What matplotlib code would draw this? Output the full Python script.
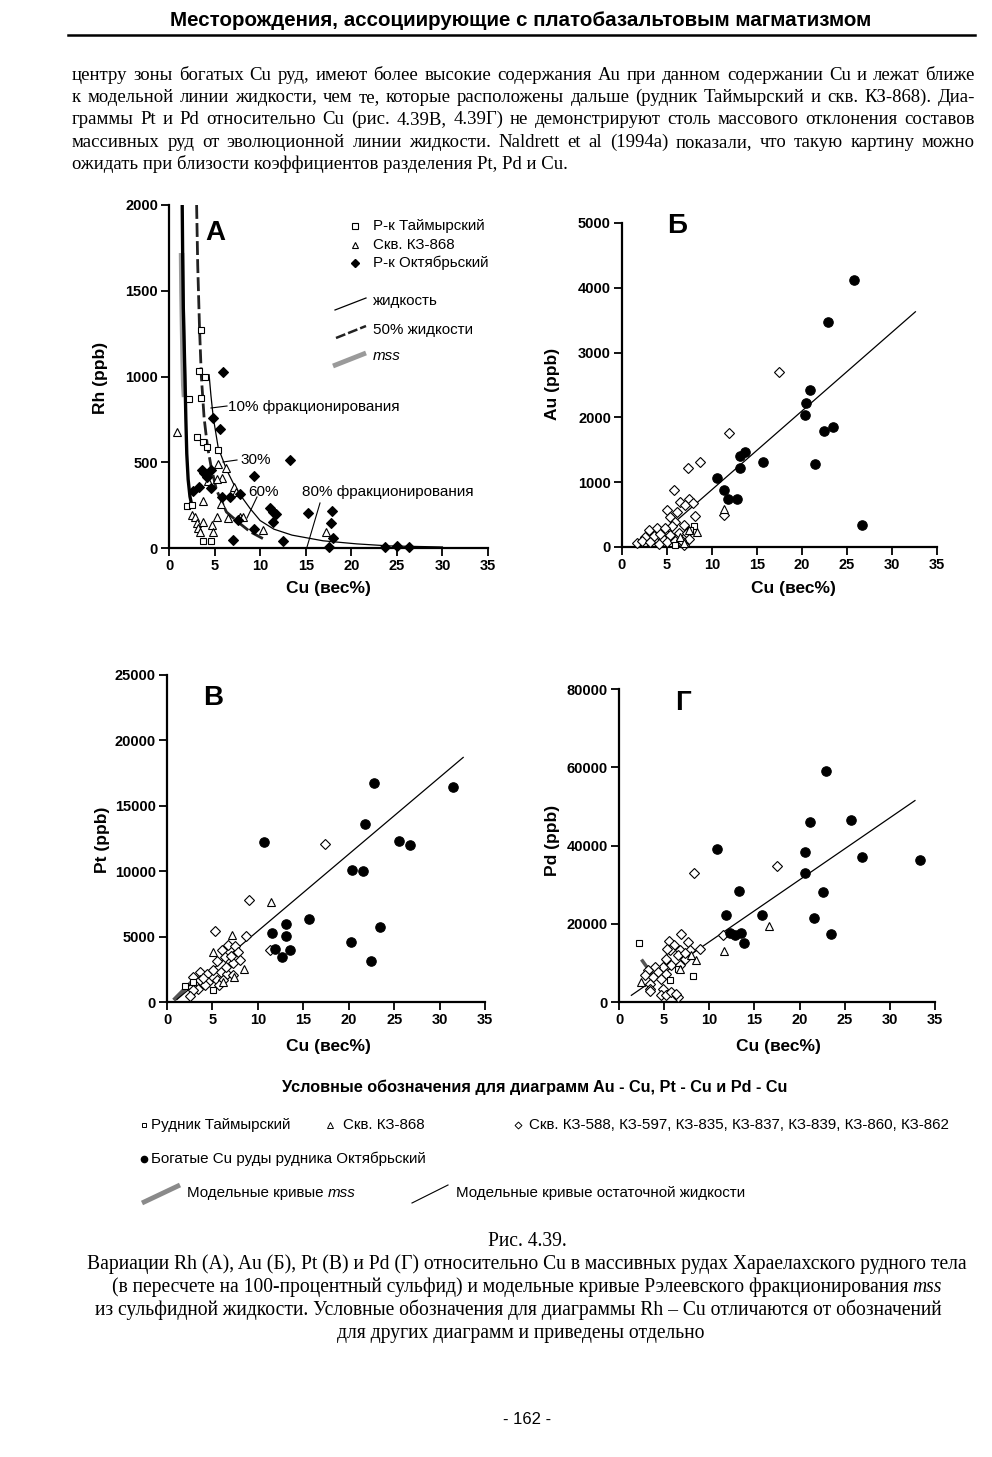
import matplotlib
matplotlib.use("Agg")
import matplotlib.pyplot as plt

W, H = 992, 1457
SANS = "Liberation Sans"
SERIF = "Liberation Serif"

# ---- panel A: Rh vs Cu ----
a_tai_cu = [3.47, 3.32, 3.95, 2.23, 3.48, 3.10, 3.76, 4.14, 5.41, 1.94, 2.49, 3.70, 4.58]
a_tai_rh = [1274, 1030, 1000, 870, 875, 645, 620, 590, 570, 247, 251, 43, 43]
a_kz_cu = [0.91, 5.41, 6.22, 5.78, 5.30, 4.31, 7.13, 7.35, 5.67, 3.70, 2.49, 2.85, 3.04, 3.22,
           3.40, 3.77, 4.68, 4.79, 5.23, 6.50, 7.79, 10.35, 17.2, 8.1]
a_kz_rh = [675, 490, 465, 406, 400, 392, 357, 328, 255, 274, 192, 183, 144, 115,
           95, 153, 134, 95, 183, 173, 183, 105, 95, 180]
a_okt_cu = [5.96, 4.79, 5.60, 3.59, 3.88, 4.14, 4.61, 4.57, 3.29, 2.60, 5.78, 6.69, 7.79, 9.36,
            13.28, 11.08, 11.44, 11.74, 11.38, 15.28, 17.85, 17.74, 17.96, 17.59, 7.06, 9.33,
            12.54, 7.60, 23.7, 25.0, 26.3]
a_okt_rh = [1024, 756, 694, 455, 435, 416, 348, 455, 357, 332, 296, 296, 315, 420,
            513, 231, 212, 198, 153, 202, 218, 147, 57, 8, 47, 109,
            43, 163, 6, 12, 6]
a_liq_cu = [4.4, 4.6, 4.86, 5.4, 6.33, 7.4, 8.9, 10.0, 11.5, 13.5, 16.9, 20.6, 24.2, 30.0]
a_liq_rh = [1010, 890, 760, 585, 455, 340, 230, 160, 110, 75, 42, 24, 12, 6]
a_half_cu = [3.03, 3.15, 3.35, 3.55, 3.85, 4.2, 4.6, 5.2, 6.3, 7.6, 8.9, 10.3]
a_half_rh = [2000, 1650, 1280, 1000, 760, 600, 480, 340, 210, 150, 95, 55]
a_sol_cu = [1.45, 1.5, 1.57, 1.66, 1.75, 1.85, 1.95, 2.1, 2.3, 2.5]
a_sol_rh = [2000, 1700, 1400, 1200, 1000, 750, 550, 400, 300, 250]
a_mss_cu = [1.38, 1.42, 1.48, 1.55, 1.62, 1.7]
a_mss_rh = [1720, 1500, 1300, 1100, 950, 880]

# ---- panel Б: Au vs Cu ----
b_okt_cu = [25.74, 22.85, 20.93, 20.44, 20.37, 22.48, 23.44, 21.48, 26.67, 15.67, 13.63, 13.07,
            13.15, 10.56, 11.37, 11.78, 12.78]
b_okt_au = [4127, 3470, 2423, 2228, 2038, 1797, 1858, 1283, 344, 1309, 1473, 1406,
            1217, 1063, 883, 744, 744]
b_kz_cu = [17.48, 11.93, 8.70, 7.33, 5.74, 11.37, 6.48, 7.40, 5.00, 6.10, 7.03, 5.37, 8.14, 5.92,
           6.84, 2.96, 3.89, 4.62, 2.59, 3.51, 4.44, 5.37, 6.29, 7.21, 1.67, 2.22, 3.10, 4.07,
           4.99, 5.92, 6.84, 7.40, 6.50, 5.50, 4.80, 7.90, 4.20]
b_kz_au = [2705, 1755, 1319, 1217, 883, 490, 699, 735, 570, 545, 648, 467, 478, 390,
           339, 262, 288, 236, 159, 170, 134, 185, 211, 211, 57, 97, 72, 46,
           72, 88, 36, 124, 113, 330, 300, 680, 200]
b_tai_cu = [7.96, 7.60, 5.90]
b_tai_au = [323, 262, 30]
b_868_cu = [8.33, 7.40, 6.48, 11.37, 6.90]
b_868_au = [236, 262, 149, 580, 60]
b_liq_cu = [2.7, 32.6]
b_liq_au = [0, 3630]

# ---- panel В: Pt vs Cu ----
c_okt_cu = [10.65, 22.80, 31.50, 21.80, 25.56, 26.73, 20.38, 21.60, 15.60, 13.15, 11.60, 13.07,
            11.93, 13.51, 12.67, 23.43, 20.30, 22.44]
c_okt_pt = [12245, 16709, 16403, 13571, 12296, 11990, 10076, 10025, 6378, 5995, 5281, 5026,
            4082, 4005, 3444, 5740, 4592, 3138]
c_kz_cu = [17.37, 9.00, 11.31, 5.25, 8.67, 6.02, 6.75, 7.48, 7.85, 5.47, 6.38, 7.30, 8.03, 3.63,
           4.37, 5.10, 5.90, 6.60, 7.30, 2.90, 3.63, 4.55, 5.47, 6.20, 2.71, 3.45, 4.20, 2.90,
           2.53, 4.00, 6.50, 5.70, 7.00]
c_kz_pt = [12066, 7781, 3954, 5450, 5026, 4010, 4339, 4262, 3826, 3137, 3444, 2984, 3191, 2296,
           2173, 2426, 2300, 2173, 2050, 1913, 1660, 1530, 1660, 1660, 1148, 1020, 1275, 895,
           436, 1800, 2700, 1300, 3500]
c_868_cu = [11.42, 7.20, 5.07, 8.45, 7.40, 6.17]
c_868_pt = [7653, 5102, 3827, 2551, 1913, 1530]
c_tai_cu = [1.98, 5.10, 2.90]
c_tai_pt = [1200, 880, 1550]
c_liq_cu = [1.1, 32.6]
c_liq_pt = [200, 18700]
c_mss_cu = [0.9, 2.9]
c_mss_pt = [250, 1650]

# ---- panel Г: Pd vs Cu ----
d_okt_cu = [22.91, 25.68, 21.14, 10.86, 20.58, 26.94, 33.33, 20.58, 22.62, 13.30, 11.83, 15.89,
            21.62, 23.47, 12.27, 12.82, 13.49, 13.86]
d_okt_pd = [59083, 46532, 45935, 39104, 38250, 37141, 36287, 32872, 28005, 28346, 22199, 22199,
            21516, 17333, 17760, 17076, 17760, 15112]
d_kz_cu = [8.31, 17.55, 11.53, 6.84, 8.94, 5.51, 6.06, 5.62, 6.73, 7.65, 7.84, 6.54, 7.28, 5.25,
           5.81, 6.73, 4.88, 3.96, 3.22, 4.32, 5.25, 2.85, 3.77, 4.70, 3.40, 3.40, 3.40, 4.88,
           4.70, 5.25, 5.81, 6.54, 6.30, 5.30, 7.30]
d_kz_pd = [32872, 34835, 17076, 17333, 13661, 15620, 14520, 13240, 13240, 15370, 13240, 11960,
           11110, 11110, 9400, 9400, 8960, 8960, 8120, 7680, 7270, 6840, 6400, 5990, 4710, 3430,
           2900, 3430, 1710, 1710, 2560, 1280, 2130, 13500, 12500]
d_868_cu = [16.63, 11.60, 8.57, 8.02, 6.73, 2.48]
d_868_pd = [19467, 12978, 10843, 11960, 8550, 5120]
d_tai_cu = [2.18, 8.20, 5.62, 6.54]
d_tai_pd = [15198, 6574, 5560, 8538]
d_liq_cu = [1.37, 32.78]
d_liq_pd = [1710, 51485]
d_mss_cu = [2.6, 4.0]
d_mss_pd = [10500, 6000]

header = "Месторождения, ассоциирующие с платобазальтовым магматизмом"
paragraph = [
    "центру зоны богатых Cu руд, имеют более высокие содержания Au при данном содержании Cu и лежат ближе",
    "к модельной линии жидкости, чем те, которые расположены дальше (рудник Таймырский и скв. КЗ-868). Диа-",
    "граммы Pt и Pd относительно Cu (рис. 4.39В, 4.39Г) не демонстрируют столь массового отклонения составов",
    "массивных руд от эволюционной линии жидкости. Naldrett et al (1994a) показали, что такую картину можно",
    "ожидать при близости коэффициентов разделения Pt, Pd и Cu.",
]
caption = [
    "Вариации Rh (А), Au (Б), Pt (В) и Pd (Г) относительно Cu в массивных рудах Хараелахского рудного тела",
    "(в пересчете на 100-процентный сульфид) и модельные кривые Рэлеевского фракционирования",
    "из сульфидной жидкости. Условные обозначения для диаграммы Rh – Cu отличаются от обозначений",
    "для других диаграмм и приведены отдельно",
]

fig = plt.figure(figsize=(W / 100, H / 100), dpi=100)
fig.patch.set_facecolor("white")


def panel(x0, x1, ybot, ytop, ymax, yticks):
    ax = fig.add_axes([x0 / W, 1 - ybot / H, (x1 - x0) / W, (ybot - ytop) / H])
    ax.set_xlim(0, 35)
    ax.set_ylim(0, ymax)
    ax.set_xticks(range(0, 36, 5), labels=[str(v) for v in range(0, 36, 5)],
                  fontweight="bold", fontsize=10.5, family=SANS)
    ax.set_yticks(yticks, labels=[str(v) for v in yticks],
                  fontweight="bold", fontsize=10.5, family=SANS)
    for s in ("top", "right"):
        ax.spines[s].set_visible(False)
    for s in ("left", "bottom"):
        ax.spines[s].set_linewidth(1.6)
    ax.tick_params(direction="out", length=6, width=1.3, pad=2)
    ax.patch.set_alpha(0)
    return ax


def pts(ax, x, y, marker, ms, filled=False):
    ax.plot(x, y, ls="none", marker=marker, ms=ms, mfc="black" if filled else "white",
            mec="black", mew=0.8, clip_on=False, zorder=3)


# panel A
axA = panel(169, 488, 548, 205, 2000, [0, 500, 1000, 1500, 2000])
axA.plot(a_mss_cu, a_mss_rh, color="#9a9a9a", lw=4, solid_capstyle="butt", zorder=1)
axA.plot(a_sol_cu, a_sol_rh, color="black", lw=2.4, zorder=2)
axA.plot(a_half_cu, a_half_rh, color="#222222", lw=2, dashes=(5, 1.5), zorder=2)
axA.plot(a_liq_cu, a_liq_rh, color="black", lw=0.9, zorder=2)
pts(axA, a_tai_cu, a_tai_rh, "s", 4.8)
pts(axA, a_kz_cu, a_kz_rh, "^", 6)
pts(axA, a_okt_cu, a_okt_rh, "D", 5, filled=True)

# panel Б
axB = panel(622, 937, 547, 223, 5000, [0, 1000, 2000, 3000, 4000, 5000])
axB.plot(b_liq_cu, b_liq_au, color="black", lw=0.9, zorder=2)
pts(axB, b_kz_cu, b_kz_au, "D", 5.2)
pts(axB, b_tai_cu, b_tai_au, "s", 4.8)
pts(axB, b_868_cu, b_868_au, "^", 6)
pts(axB, b_okt_cu, b_okt_au, "o", 6.8, filled=True)

# panel В
axC = panel(167, 485, 1002, 675, 25000, [0, 5000, 10000, 15000, 20000, 25000])
axC.plot(c_mss_cu, c_mss_pt, color="#555555", lw=3, zorder=2)
axC.plot(c_liq_cu, c_liq_pt, color="black", lw=0.9, zorder=2)
pts(axC, c_kz_cu, c_kz_pt, "D", 5.2)
pts(axC, c_tai_cu, c_tai_pt, "s", 4.8)
pts(axC, c_868_cu, c_868_pt, "^", 6)
pts(axC, c_okt_cu, c_okt_pt, "o", 6.8, filled=True)

# panel Г
axD = panel(619, 935, 1002, 689, 80000, [0, 20000, 40000, 60000, 80000])
axD.plot(d_mss_cu, d_mss_pd, color="#555555", lw=2.5, zorder=2)
axD.plot(d_liq_cu, d_liq_pd, color="black", lw=0.9, zorder=2)
pts(axD, d_kz_cu, d_kz_pd, "D", 5.2)
pts(axD, d_tai_cu, d_tai_pd, "s", 4.8)
pts(axD, d_868_cu, d_868_pd, "^", 6)
pts(axD, d_okt_cu, d_okt_pd, "o", 6.8, filled=True)

# overlay in page pixels for all the page text and decorations
ov = fig.add_axes([0, 0, 1, 1], zorder=10)
ov.set_xlim(0, W)
ov.set_ylim(H, 0)
ov.axis("off")
rend = fig.canvas.get_renderer()


def width(t):
    return t.get_window_extent(rend).width


def fit(x, y, s, target, ha="left", size=12, **kw):
    t = ov.text(x, y, s, fontsize=size, ha=ha, va="baseline", **kw)
    t.set_fontsize(size * target / width(t))
    return t


def txt(x, y, s, size, ha="left", **kw):
    return ov.text(x, y, s, fontsize=size, ha=ha, va="baseline", **kw)


def justify(x0, x1, y, line, size, **kw):
    words = line.split()
    arts = [ov.text(0, y, w, fontsize=size, va="baseline", **kw) for w in words]
    ws = [width(a) for a in arts]
    gap = (x1 - x0 - sum(ws)) / (len(words) - 1)
    x = x0
    for a, w in zip(arts, ws):
        a.set_x(x)
        x += w + gap


# header
fit(521, 26, header, 700, ha="center", family=SANS, fontweight="bold")
ov.plot([68, 975], [35, 35], color="black", lw=1.8)

# paragraph (justified serif text)
probe = ov.text(0, 0, paragraph[0], fontsize=12, family=SERIF)
psize = 12 * 0.975 * 903 / width(probe)
probe.remove()
for i, line in enumerate(paragraph):
    y = 80 + i * 22.2
    if i < len(paragraph) - 1:
        justify(72, 975, y, line, psize, family=SERIF)
    else:
        txt(72, y, line, psize, family=SERIF)

# panel letters and axis titles
for x, y, s in [(215, 233, "А"), (677, 226, "Б"), (213, 698, "В"), (683, 703, "Г")]:
    ov.text(x, y, s, fontsize=20, fontweight="bold", family=SANS, ha="center", va="center")
for x, y in [(328, 589), (793, 589), (328, 1047), (778, 1047)]:
    ov.text(x, y, "Cu (вес%)", fontsize=12.5, fontweight="bold", family=SANS,
            ha="center", va="center")
for x, y, s in [(100, 378, "Rh (ppb)"), (553, 384, "Au (ppb)"),
                (103, 840, "Pt (ppb)"), (552, 840, "Pd (ppb)")]:
    ov.text(x, y, s, fontsize=12.5, fontweight="bold", family=SANS, rotation=90,
            ha="center", va="center")

# panel A legend
ov.plot([355], [226], ls="none", marker="s", ms=4.2, mfc="white", mec="black", mew=0.8)
ov.plot([355], [245], ls="none", marker="^", ms=4.8, mfc="white", mec="black", mew=0.8)
ov.plot([355], [263], ls="none", marker="D", ms=4.2, mfc="black", mec="black")
leg_size = fit(373, 230, "Р-к Таймырский", 112, family=SANS).get_fontsize()
txt(373, 249, "Скв. КЗ-868", leg_size, family=SANS)
txt(373, 267, "Р-к Октябрьский", leg_size, family=SANS)
ov.plot([335, 366], [310, 298], color="black", lw=0.9)
ov.plot([336, 366], [338, 326], color="#222222", lw=1.8, dashes=(4, 1.2))
ov.plot([333, 366], [366, 353], color="#9a9a9a", lw=3.5, solid_capstyle="butt")
txt(373, 305, "жидкость", leg_size, family=SANS)
txt(373, 334, "50% жидкости", leg_size, family=SANS)
txt(373, 360, "mss", leg_size, family=SANS, style="italic")

# panel A curve annotations
ov.plot([211, 227], [408, 406], color="black", lw=0.8)
ov.plot([223, 237], [462, 460], color="black", lw=0.8)
ov.plot([247, 257], [518, 497], color="black", lw=0.8)
ov.plot([307, 320], [547, 503], color="black", lw=0.8)
ann_size = fit(228, 411, "10% фракционирования", 172, family=SANS).get_fontsize()
txt(240, 464, "30%", ann_size, family=SANS)
txt(248, 496, "60%", ann_size, family=SANS)
txt(302, 496, "80% фракционирования", ann_size, family=SANS)

# legend block for Au, Pt, Pd diagrams
fit(535, 1092, "Условные обозначения для диаграмм Au - Cu, Pt - Cu и Pd - Cu", 504,
    ha="center", family=SANS, fontweight="bold")
ov.plot([144], [1125], ls="none", marker="s", ms=3.5, mfc="white", mec="black", mew=0.7)
ov.plot([330], [1125], ls="none", marker="^", ms=4, mfc="white", mec="black", mew=0.7)
ov.plot([518], [1125], ls="none", marker="D", ms=3.5, mfc="white", mec="black", mew=0.7)
ov.plot([144], [1159], ls="none", marker="o", ms=4.5, mfc="black", mec="black")
row_size = fit(529, 1129, "Скв. КЗ-588, КЗ-597, КЗ-835, КЗ-837, КЗ-839, КЗ-860, КЗ-862", 421,
               family=SANS).get_fontsize()
txt(151, 1129, "Рудник Таймырский", row_size, family=SANS)
txt(343, 1129, "Скв. КЗ-868", row_size, family=SANS)
txt(151, 1163, "Богатые Cu руды рудника Октябрьский", row_size, family=SANS)
ov.plot([142, 180], [1203, 1185], color="#8a8a8a", lw=3.5, solid_capstyle="butt")
ov.plot([412, 448], [1203, 1185], color="black", lw=0.8)
t = txt(187, 1197, "Модельные кривые", row_size, family=SANS)
txt(187 + width(t) + 4, 1197, "mss", row_size, family=SANS, style="italic")
txt(456, 1197, "Модельные кривые остаточной жидкости", row_size, family=SANS)

# caption
csize = fit(527, 1269, caption[0], 879, ha="center", family=SERIF).get_fontsize()
txt(527, 1246, "Рис. 4.39.", csize, ha="center", family=SERIF)
t1 = txt(0, 1292, caption[1], csize, family=SERIF)
t2 = txt(0, 1292, "mss", csize, family=SERIF, style="italic")
w1, w2 = width(t1), width(t2)
x0 = 527 - (w1 + 4 + w2) / 2
t1.set_x(x0)
t2.set_x(x0 + w1 + 4)
txt(518, 1315, caption[2], csize, ha="center", family=SERIF)
txt(521, 1338, caption[3], csize, ha="center", family=SERIF)

# page number
txt(527, 1424, "- 162 -", 12, ha="center", family=SANS)

fig.savefig("out.png", dpi=100)
